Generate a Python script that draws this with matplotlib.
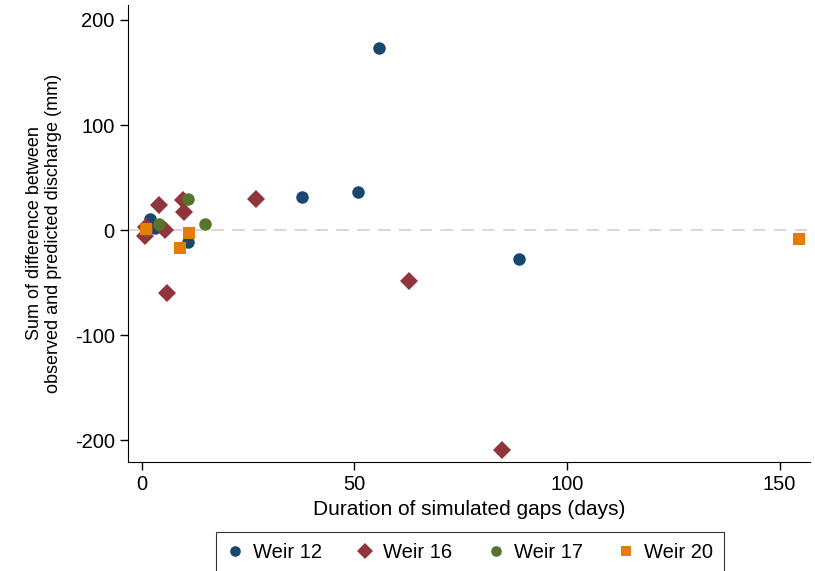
import matplotlib
matplotlib.use("Agg")
from matplotlib import pyplot as plt

# ---------------- DATA ----------------
w12_x = [1.8, 10.8, 37.6, 50.8, 55.8, 88.7, 3.0]
w12_y = [11, -11, 32, 36, 173, -27.5, 2]

w16_x = [1.0, 0.7, 3.9, 5.3, 5.9, 9.6, 10.0, 26.8, 62.8, 84.7]
w16_y = [3, -6, 23.7, 0, -60, 28.5, 17, 30, -48, -209]

w17_x = [1.0, 3.9, 10.8, 14.9]
w17_y = [0, 5.5, 30, 5.5]

w20_x = [1.0, 9.0, 11.0, 154.6]
w20_y = [0.7, -17.4, -3, -8.5]

series = [
    ("Weir 12", w12_x, w12_y, "o", "#1a476f"),
    ("Weir 16", w16_x, w16_y, "D", "#90353b"),
    ("Weir 17", w17_x, w17_y, "o", "#55752f"),
    ("Weir 20", w20_x, w20_y, "s", "#e37e00"),
]

plt.rcParams["font.family"] = ["Liberation Sans", "DejaVu Sans"]
plt.rcParams["axes.unicode_minus"] = False

fig = plt.figure(figsize=(8.15, 5.71), dpi=100)
ax = fig.add_axes([0.157, 0.191, 0.837, 0.800])

ax.axhline(0, color="#d9d9d9", lw=1.5, ls=(0, (6, 4)), zorder=1)

sizes = {"o": 9, "D": 9, "s": 8.5}
for name, xs, ys, m, c in series:
    ax.plot(xs, ys, ls="none", marker=m, ms=sizes[m], color=c,
            markeredgewidth=0, label=name, zorder=3)

ax.set_xlim(-3.3, 157.2)
ax.set_ylim(-220.4, 214)
ax.set_xticks([0, 50, 100, 150])
ax.set_yticks([-200, -100, 0, 100, 200])
ax.tick_params(labelsize=14.5, direction="out", length=6, width=1)
ax.spines["top"].set_visible(False)
ax.spines["right"].set_visible(False)

ax.set_xlabel("Duration of simulated gaps (days)", fontsize=15, labelpad=4)
ax.set_ylabel("Sum of difference between\nobserved and predicted discharge (mm)",
              fontsize=13, labelpad=9)

leg = fig.legend(loc="upper center", bbox_to_anchor=(470 / 815, 1 - 532 / 571),
                 bbox_transform=fig.transFigure, ncol=4, borderaxespad=0,
                 fontsize=14.5, frameon=True, fancybox=False, edgecolor="black",
                 handlelength=0.8, handletextpad=0.5, columnspacing=1.75,
                 markerscale=0.85, borderpad=0.55)
leg.get_frame().set_linewidth(0.8)

fig.savefig("out.png", dpi=100)
